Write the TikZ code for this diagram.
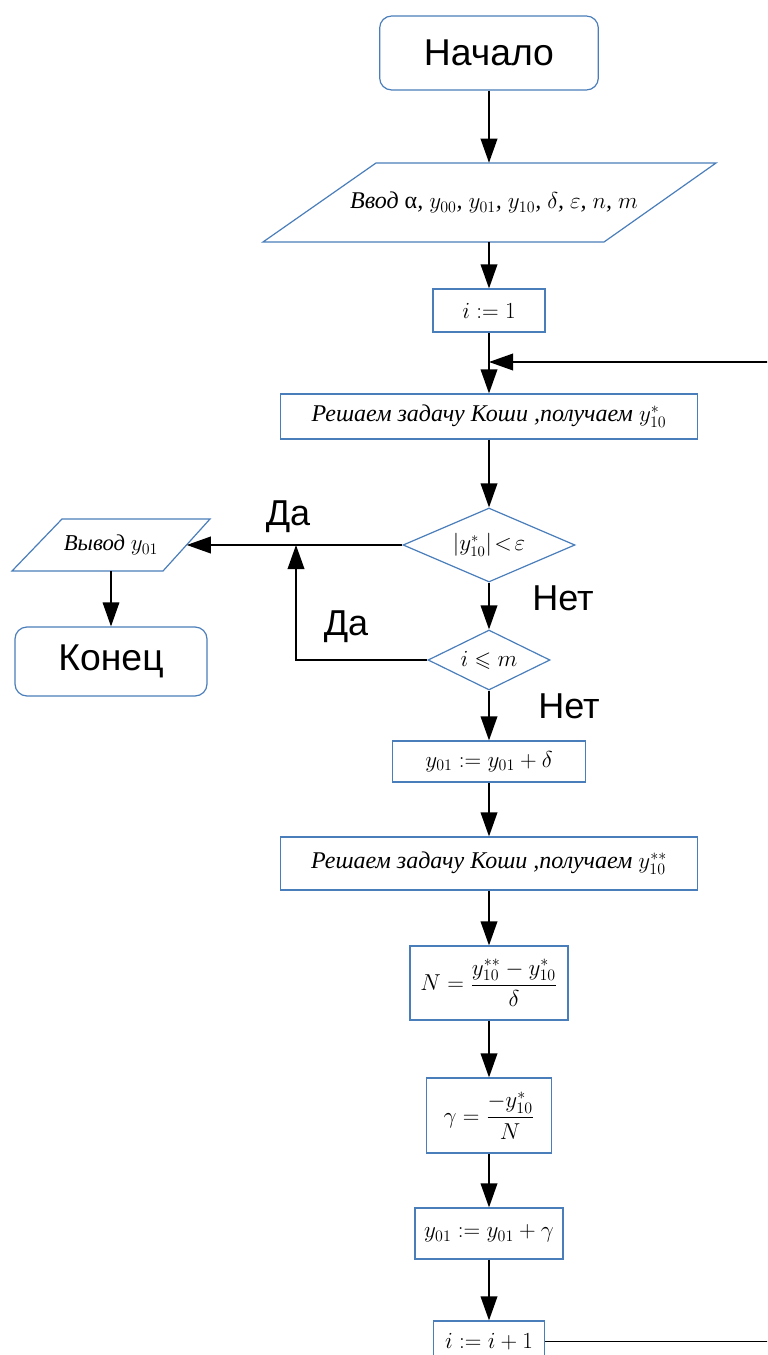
\documentclass[tikz,border=0pt]{standalone}
\usepackage{amsmath,amssymb}
\usepackage{fontspec}
\setmainfont{Liberation Serif}
\newfontfamily\arialf{Liberation Sans}
\usetikzlibrary{arrows.meta,shapes.geometric}
\definecolor{bcol}{RGB}{74,126,187}
\begin{document}
\begin{tikzpicture}[x=0.75pt,y=-0.75pt,
  outline/.style={draw=bcol,line width=0.9pt},
  term/.style={outline,rounded corners=9pt,inner sep=0pt,font=\arialf\fontsize{28}{32}\selectfont},
  box/.style={outline,inner sep=0pt,font=\fontsize{17}{20}\selectfont},
  txtbox/.style={outline,inner sep=0pt,font=\itshape\fontsize{18}{21}\selectfont},
  plain/.style={inner sep=0pt},
  dec/.style={outline,diamond,inner sep=0pt,font=\fontsize{16}{19}\selectfont},
  lbl/.style={inner sep=0pt,font=\arialf\fontsize{27}{31}\selectfont},
  arr/.style={line width=1.1pt,-{Triangle[length=18pt,width=12.5pt]}},
  ln/.style={line width=1.1pt}]
\useasboundingbox (0,0) rectangle (767,1355);
\clip (0,0) rectangle (767,1355);
\fill[white] (0,0) rectangle (767,1355);

% terminal start
\node[term,minimum width=164pt,minimum height=55.5pt] (start) at (489,53) {Начало};

% input parallelogram
\draw[outline] (376,163) -- (716,163) -- (604,242) -- (263,242) -- cycle;
\node[plain,minimum width=200pt,minimum height=59.25pt,font=\itshape\fontsize{18}{21}\selectfont] (in) at (494,202.5)
  {Ввод {\upshape α}, $y_{00}$, $y_{01}$, $y_{10}$, $\delta$, $\varepsilon$, $n$, $m$};

\node[box,minimum width=84pt,minimum height=32.25pt] (i1) at (489,310.5) {$i:=1$};
\coordinate (join) at (489,362);
\coordinate (loopR) at (800,362);

\node[txtbox,minimum width=312.75pt,minimum height=33.75pt] (solve1) at (489,416.5)
  {Решаем задачу Коши ,получаем $y^{*}_{10}$};

\node[dec,aspect=2.32,minimum width=129pt,minimum height=55.5pt] (d1) at (489,545) {$|y^{*}_{10}|\!<\!\varepsilon$};
\node[dec,aspect=2.03,minimum width=91.5pt,minimum height=45pt] (d2) at (489,660) {$i\leqslant m$};
\coordinate (merge) at (296,545);

% output parallelogram
\draw[outline] (62,519) -- (210,519) -- (163,571) -- (12,571) -- cycle;
\node[plain,minimum width=113.25pt,minimum height=39pt,font=\itshape\fontsize{17}{20}\selectfont] (out) at (111,545) {Вывод $y_{01}$};
\node[term,minimum width=144pt,minimum height=51.75pt] (end) at (111,661.5) {Конец};

\node[lbl] (yes1) at (288,517) {Да};
\node[lbl] (yes2) at (346,627) {Да};
\node[lbl] (no1) at (563,598) {Нет};
\node[lbl] (no2) at (569,706) {Нет};

\node[box,minimum width=144.75pt,minimum height=30.75pt] (stepd) at (489,761.5) {$y_{01}:=y_{01}+\delta$};
\node[txtbox,minimum width=312.75pt,minimum height=39.75pt] (solve2) at (489,863.5)
  {Решаем задачу Коши ,получаем $y^{**}_{10}$};
\node[box,minimum width=118.5pt,minimum height=55.5pt] (nbox) at (489,983) {$N=\dfrac{y^{**}_{10}-y^{*}_{10}}{\delta}$};
\node[box,minimum width=93.75pt,minimum height=56.25pt] (gbox) at (489,1115.5) {$\gamma=\dfrac{-y^{*}_{10}}{N}$};
\node[box,minimum width=111pt,minimum height=38.25pt] (stepg) at (489,1233.5) {$y_{01}:=y_{01}+\gamma$};
\node[box,minimum width=83.25pt,minimum height=30.75pt] (inc) at (489,1341.5) {$i:=i+1$};

% connectors
\draw[arr] (start.south) -- (start.south |- in.north);
\draw[arr] (start.south |- in.south) -- (i1.north);
\draw[arr] (i1.south) -- (solve1.north);
\draw[arr] (inc.east) -- (inc.east -| loopR) -- (loopR) -- (join);
\draw[arr] (solve1.south) -- (d1.north);
\draw[arr] (d1.west) -- (out.east);
\draw[arr] (d1.south) -- (d2.north);
\draw[arr] (d2.west) -| (merge);
\draw[arr,line width=0.9pt] (out.south) -- (end.north);
\draw[arr] (d2.south) -- (stepd.north);
\draw[arr] (stepd.south) -- (solve2.north);
\draw[arr] (solve2.south) -- (nbox.north);
\draw[arr] (nbox.south) -- (gbox.north);
\draw[arr] (gbox.south) -- (stepg.north);
\draw[arr] (stepg.south) -- (inc.north);
\end{tikzpicture}
\end{document}
